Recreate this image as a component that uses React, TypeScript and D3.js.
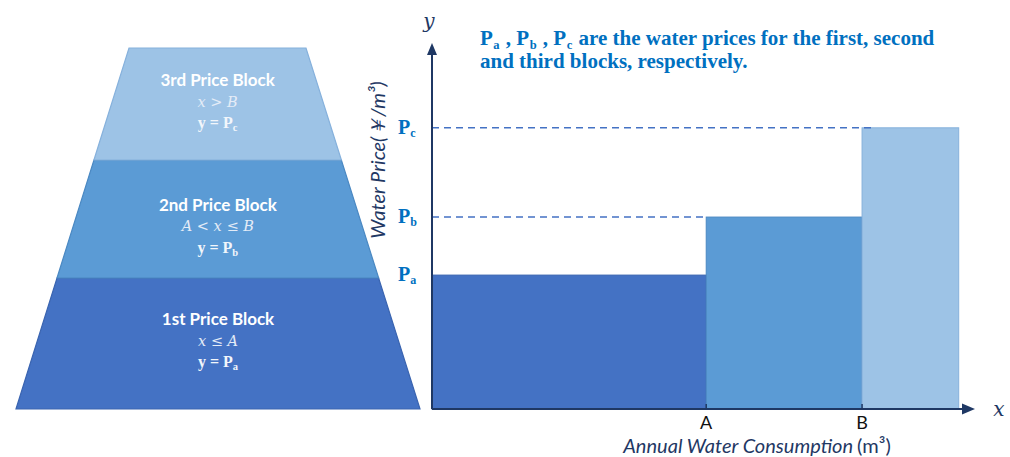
import React from "react";
import * as d3 from "d3";

// ---- data ----
const blockNames = ["1st Price Block", "2nd Price Block", "3rd Price Block"];
const blockConditions = ["x ≤ A", "A < x ≤ B", "x > B"];
const priceSubs = ["a", "b", "c"];
const priceValues = [3.0, 4.3, 6.3]; // Pa, Pb, Pc (relative units)
const breakValues = [0, 5.05, 7.92, 9.7]; // 0, A, B, end
const breakLabels = ["A", "B"];
const blockColors = ["#4472C4", "#5B9BD5", "#9DC3E6"];
const blockStrokes = ["#3A64B0", "#4A88C2", "#86B1DC"];
const trapLevels = [0, 131, 249, 361]; // cumulative block heights (pyramid units)

const W = 1010;
const H = 457;

export default function App() {
  // main chart scales
  const x = d3.scaleLinear().domain([0, 10]).range([432, 975]);
  const y = d3.scaleLinear().domain([0, 8.2]).range([409, 43]);

  // pyramid scales
  const ty = d3.scaleLinear().domain([0, 361]).range([409, 48]);
  const leftX = d3.scaleLinear().domain([0, 361]).range([16, 129]);
  const rightX = d3.scaleLinear().domain([0, 361]).range([420, 306]);

  const navy = "#1F3864";
  const blue = "#0070C0";

  const traps = blockNames.map((name, i) => {
    const a = trapLevels[i];
    const b = trapLevels[i + 1];
    const pts: [number, number][] = [
      [leftX(a), ty(a)],
      [rightX(a), ty(a)],
      [rightX(b), ty(b)],
      [leftX(b), ty(b)],
    ];
    return { name, pts, a, b, i };
  });

  const line = d3.line();
  const textOffsets = [
    [319, 341, 361],
    [205, 226, 247],
    [80, 102, 122],
  ];

  return (
    <svg width={W} height={H} style={{ position: "absolute", left: 0, top: 0, background: "#fff" }}>
      {/* Pyramid */}
      {traps.map((t) => (
        <g key={t.name}>
          <path d={line(t.pts) + "Z"} fill={blockColors[t.i]} stroke={blockStrokes[t.i]} strokeWidth={1.2} />
        </g>
      ))}
      {traps.map((t) => {
        const cx = (leftX(t.a) + rightX(t.a)) / 2;
        const [y1, y2, y3] = textOffsets[t.i];
        return (
          <g key={"txt" + t.name} textAnchor="middle">
            <text x={cx} y={y1} dy="0.35em" fill="#fff" fontFamily="Lato, 'Open Sans', sans-serif" fontWeight="bold" fontSize={17}>
              {t.name}
            </text>
            <text x={cx} y={y2} dy="0.35em" fill="#E4ECF7" fontFamily="'DejaVu Serif', 'Liberation Serif', serif" fontStyle="italic" fontSize={14.5}>
              {blockConditions[t.i]}
            </text>
            <text x={cx} y={y3} dy="0.35em" fill="#F2F6FB" fontFamily="'Liberation Serif', serif" fontWeight="bold" fontSize={16}>
              y = P<tspan fontSize={10.5} dy="3">{priceSubs[t.i]}</tspan>
            </text>
          </g>
        );
      })}

      {/* Bars */}
      {priceValues.map((p, i) => (
        <rect
          key={"bar" + i}
          x={x(breakValues[i])}
          y={y(p)}
          width={x(breakValues[i + 1]) - x(breakValues[i])}
          height={y(0) - y(p)}
          fill={blockColors[i]}
          stroke={blockStrokes[i]}
          strokeWidth={1}
        />
      ))}

      {/* Dashed reference lines */}
      {priceValues.slice(1).map((p, k) => {
        const i = k + 1;
        return (
          <line
            key={"dash" + i}
            x1={x(0)}
            x2={x(breakValues[i]) + (i === 2 ? 13 : 0)}
            y1={y(p)}
            y2={y(p)}
            stroke="#4472C4"
            strokeWidth={1.4}
            strokeDasharray="7,5"
          />
        );
      })}

      {/* Price labels */}
      {priceValues.map((p, i) => (
        <text
          key={"pl" + i}
          x={398}
          y={y(p) + 6}
          fill={blue}
          fontFamily="'Liberation Serif', serif"
          fontWeight="bold"
          fontSize={20}
        >
          P<tspan fontSize={12} dy="3">{priceSubs[i]}</tspan>
        </text>
      ))}

      {/* Axes */}
      <line x1={x(0)} x2={x(0)} y1={y(0)} y2={52} stroke={navy} strokeWidth={2} />
      <path d={`M${x(0)},${43} L${x(0) - 5},${55} L${x(0) + 5},${55} Z`} fill={navy} />
      <line x1={x(0)} x2={964} y1={y(0)} y2={y(0)} stroke={navy} strokeWidth={2} />
      <path d={`M975,${y(0)} L962,${y(0) - 5.5} L962,${y(0) + 5.5} Z`} fill={navy} />

      {/* Ticks */}
      {breakLabels.map((lab, i) => (
        <g key={"tk" + lab}>
          <line x1={x(breakValues[i + 1])} x2={x(breakValues[i + 1])} y1={y(0)} y2={y(0) - 5} stroke={navy} strokeWidth={1.5} />
          <text x={x(breakValues[i + 1])} y={429} textAnchor="middle" fill="#111" fontFamily="Lato, 'Open Sans', sans-serif" fontSize={18}>
            {lab}
          </text>
        </g>
      ))}

      {/* Axis letters */}
      <text x={429} y={28} textAnchor="middle" fill={navy} fontFamily="'DejaVu Serif', serif" fontStyle="italic" fontSize={20}>
        y
      </text>
      <text x={999} y={409} dy="0.35em" textAnchor="middle" fill={navy} fontFamily="'DejaVu Serif', serif" fontStyle="italic" fontSize={20}>
        x
      </text>

      {/* Axis titles */}
      <text x={757} y={453} textAnchor="middle" fill={navy} fontFamily="Lato, 'Open Sans', sans-serif" fontSize={20}>
        <tspan fontStyle="italic">Annual Water Consumption</tspan>
        <tspan dx="4">(m³)</tspan>
      </text>
      <text
        transform={`translate(385,160) rotate(-90)`}
        textAnchor="middle"
        fill={navy}
        fontFamily="Lato, 'Open Sans', sans-serif"
        fontStyle="italic"
        fontSize={20}
      >
        Water Price(￥/m³)
      </text>

      {/* Title note */}
      <text x={480} y={45} fill={blue} fontFamily="'Liberation Serif', serif" fontWeight="bold" fontSize={21}>
        P<tspan fontSize={12.5} dy="4" dx="0.5">a</tspan>
        <tspan dy="-4" dx="1"> , P</tspan>
        <tspan fontSize={12.5} dy="4" dx="0.5">b</tspan>
        <tspan dy="-4" dx="1"> , P</tspan>
        <tspan fontSize={12.5} dy="4" dx="0.5">c</tspan>
        <tspan dy="-4" dx="1"> are the water prices for the first, second</tspan>
      </text>
      <text x={480} y={68} fill={blue} fontFamily="'Liberation Serif', serif" fontWeight="bold" fontSize={21}>
        and third blocks, respectively.
      </text>
    </svg>
  );
}
